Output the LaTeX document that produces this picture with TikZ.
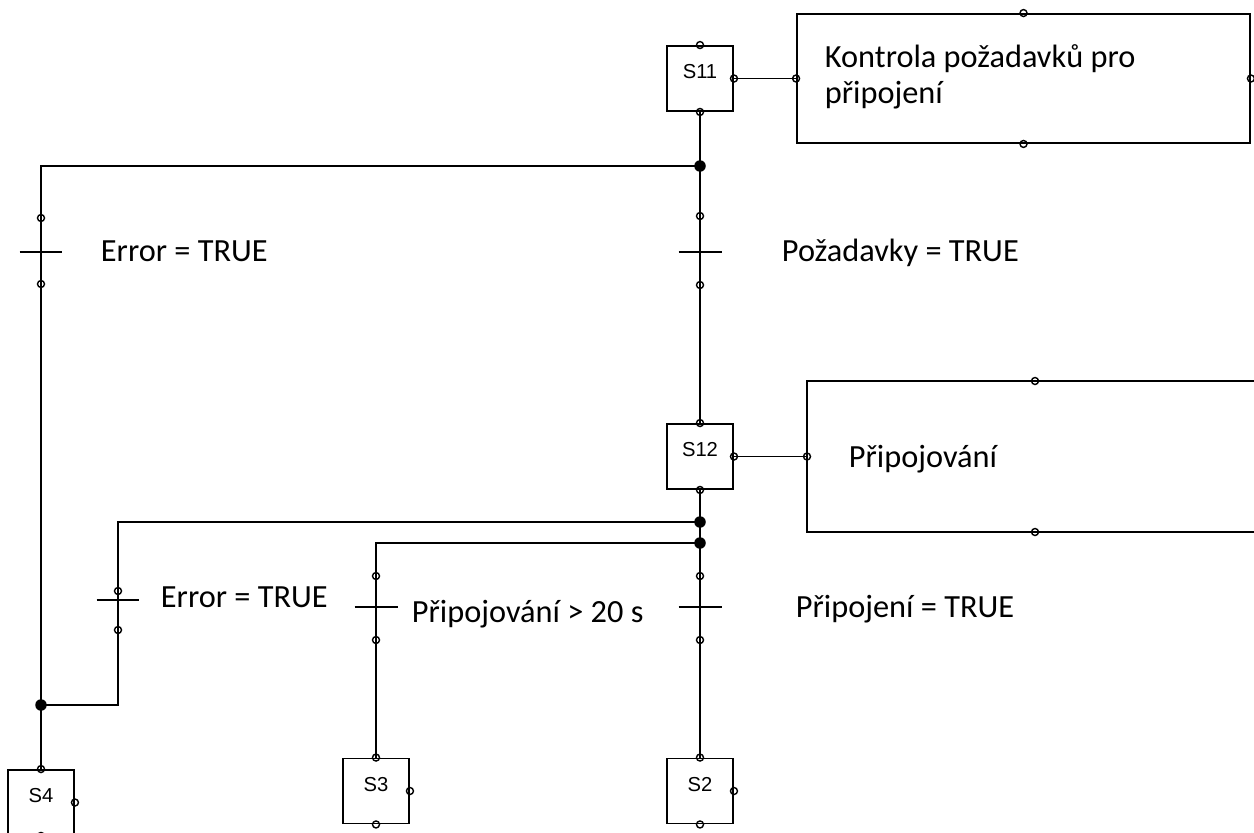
\documentclass[tikz,border=0pt]{standalone}
\usepackage{fontspec}
\setmainfont{Carlito}
\newfontfamily\krokfont{Liberation Sans}
\usepackage{tikz}
\tikzset{
Krok/.style={
 draw=black, 
 minimum width=1.32cm, 
 minimum height=1.3cm, 
 inner sep=0pt, 
 text height=0.3cm, 
 text depth=0.3cm, 
 font=\krokfont\fontsize{11.5}{13}\selectfont
 },
Akce/.style={
 draw=black, 
 inner sep=0pt
 },
Bod/.style={
 draw=black, 
 circle, 
 minimum size=0.14cm, 
 inner sep=0pt, 
 line width=0.8pt
 },
Spoj/.style={
 fill=black, 
 circle, 
 minimum size=0.23cm, 
 inner sep=0pt
 },
Popis/.style={
 anchor=base west, 
 inner sep=0pt, 
 font=\fontsize{18.4}{22}\selectfont
 }
}

\begin{document}
\begin{tikzpicture}[x=0.02cm,y=-0.02cm,line width=1.1pt]
\useasboundingbox (0,0) rectangle (1254,832);
\node[Krok] (S11) at (700,78.5) {S11};
\node[Krok] (S12) at (700,456.5) {S12};
\node[Krok] (S4) at (41,802.5) {S4};
\node[Krok] (S3) at (376,791) {S3};
\node[Krok] (S2) at (700,791) {S2};
\node[Akce,minimum width=9.06cm,minimum height=2.58cm] (A11) at (1023.5,78.5) {};
\draw (1262,381) -| (807,532) -- (1262,532);
\foreach \s in {S11,S12,S4,S3,S2}{
 \node[Bod] (\s n) at (\s.north) {};
 \node[Bod] (\s e) at (\s.east) {};
 \node[Bod] (\s s) at (\s.south) {};
}
\node[Bod] (A11w) at (A11.west) {};
\node[Bod] (A11n) at (A11.north) {};
\node[Bod] (A11s) at (A11.south) {};
\node[Bod] (A11e) at (A11.east) {};
\node[Bod] (A12w) at (807,456.5) {};
\node[Bod] (A12n) at (1035,381) {};
\node[Bod] (A12s) at (1035,532) {};
\node[Spoj] (J1) at (700,166) {};
\node[Spoj] (J2) at (700,522) {};
\node[Spoj] (J3) at (700,543) {};
\node[Spoj] (J4) at (41,705) {};
\coordinate (R1) at (41,166);
\coordinate (R2) at (118,522);
\coordinate (R3) at (118,705);
\coordinate (R4) at (376,543);
\node[Bod] (T1a) at (41,218) {};
\node[Bod] (T1b) at (41,284) {};
\coordinate (T1) at (41,252);
\node[Bod] (T2a) at (700,216) {};
\node[Bod] (T2b) at (700,285) {};
\coordinate (T2) at (700,252);
\node[Bod] (T3a) at (118,591) {};
\node[Bod] (T3b) at (118,630) {};
\coordinate (T3) at (118,600);
\node[Bod] (T4a) at (376,576) {};
\node[Bod] (T4b) at (376,640) {};
\coordinate (T4) at (376,607);
\node[Bod] (T5a) at (700,576) {};
\node[Bod] (T5b) at (700,640) {};
\coordinate (T5) at (700,607);
\foreach \t in {T1,T2,T3,T4,T5}
 \draw ([xshift=-0.43cm]\t) -- ([xshift=0.43cm]\t);
\draw (S11e.center) -- (A11w.center);
\draw (S12e.center) -- (A12w.center);
\draw (S11s.center) -- (J1.center) -- (T2a.center) -- (T2b.center) -- (S12n.center);
\draw (J1.center) -- (R1) -- (T1a.center) -- (T1b.center) -- (J4.center) -- (S4n.center);
\draw (S12s.center) -- (J2.center) -- (J3.center) -- (T5a.center) -- (T5b.center) -- (S2n.center);
\draw (J2.center) -- (R2) -- (T3a.center) -- (T3b.center) -- (R3) -- (J4.center);
\draw (J3.center) -- (R4) -- (T4a.center) -- (T4b.center) -- (S3n.center);
\node[Popis] (L0a) at (824,67) {Kontrola požadavků pro};
\node[Popis] (L0b) at (824,103) {připojení};
\node[Popis] (L1) at (100,261) {Error = TRUE};
\node[Popis] (L2) at (781,261) {Požadavky = TRUE};
\node[Popis] (L3) at (848,467) {Připojování};
\node[Popis] (L4) at (160,607) {Error = TRUE};
\node[Popis] (L5) at (411,622) {Připojování > 20 s};
\node[Popis] (L6) at (795,617) {Připojení = TRUE};
\end{tikzpicture}
\end{document}
